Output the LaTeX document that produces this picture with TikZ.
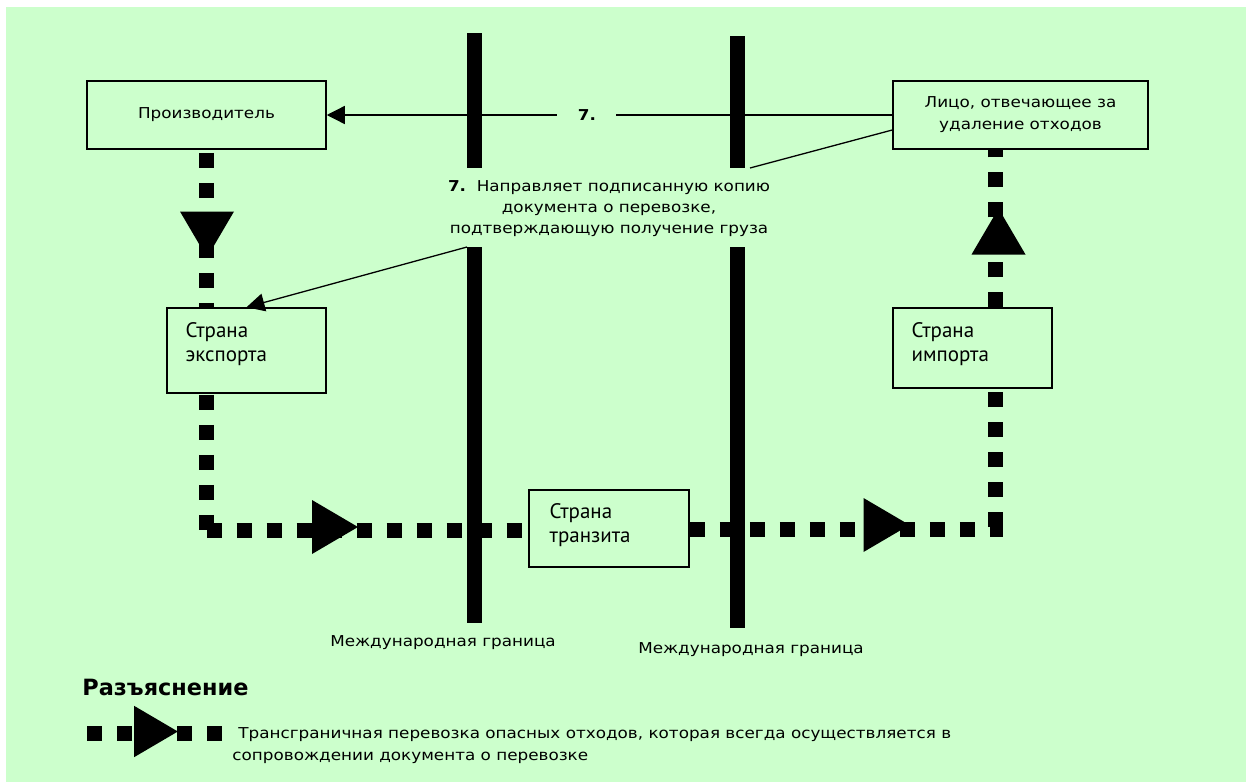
\documentclass[tikz,border=0pt]{standalone}
\usepackage{fontspec}
\setmainfont{DejaVu Sans}[FakeStretch=1.12]
\newfontfamily\boxfont{PT Sans}
\newfontfamily\keyfont{DejaVu Sans}
\usetikzlibrary{arrows.meta,calc}
\definecolor{paper}{HTML}{CCFFCC}

\tikzset{
  box/.style={draw, line width=0.75pt, fill=paper, inner sep=0pt},
  boxtxt/.style={anchor=north west, align=left, inner sep=0pt,
    font=\boxfont\fontsize{10.5}{12}\selectfont},
  lbl/.style={inner sep=0pt, font=\fontsize{7.5}{10.5}\selectfont},
  flow/.style={line width=7.5pt, dash pattern=on 7.5pt off 7.5pt},
  border/.style={line width=7.5pt},
  thin/.style={line width=0.65pt},
  tip/.style={-{Triangle[length=9pt,width=9pt]}},
  flowtip/.pic={\fill (-23,-27) -- (23,0) -- (-23,27) -- cycle;}
}

\begin{document}
\begin{tikzpicture}[x=0.5pt,y=-0.5pt]
\useasboundingbox (0,0) rectangle (1246,782);
\fill[white] (0,0) rectangle (1246,782);
\fill[paper] (6,7) rectangle (1246,782);

% international borders, broken around the note
\draw[border] (474.5,33) -- (474.5,168);
\draw[border] (474.5,247) -- (474.5,623);
\draw[border] (737,36) -- (737,168);
\draw[border] (737,247) -- (737,628);
\node[lbl] (bl1) at (443,643) {Международная граница};
\node[lbl] (bl2) at (751,650) {Международная граница};

% parties
\node[box, minimum width=119.5pt, minimum height=34pt] (prod) at (206.5,115)
  {\fontsize{7.5}{10.5}\selectfont Производитель};
\node[box, minimum width=127.5pt, minimum height=34pt, align=center,
  font=\fontsize{7.5}{11}\selectfont] (disp) at (1020.5,115)
  {Лицо, отвечающее за\\удаление отходов};
\node[box, minimum width=79.5pt, minimum height=42.5pt] (exp) at (246.5,350.5) {};
\node[box, minimum width=80pt, minimum height=38.5pt] (trans) at (609,528.5) {};
\node[box, minimum width=79.5pt, minimum height=40pt] (imp) at (972.5,348) {};
\node[boxtxt] (expT) at ($(exp.north west)+(19,15)$) {Страна\\экспорта};
\node[boxtxt] (transT) at ($(trans.north west)+(21,14)$) {Страна\\транзита};
\node[boxtxt] (impT) at ($(imp.north west)+(19,15)$) {Страна\\импорта};

% movement of the waste
\coordinate (cL) at (206.5,530.5);
\coordinate (cR) at (995.5,529.5);
\draw[flow] ($(prod.south)+(0,3)$) -- (prod.south |- exp.north);
\draw[flow] ($(prod.south |- exp.south)+(0,1)$) -- (cL);
\draw[flow] (cL) -- (trans.west |- cL);
\draw[flow] (trans.east |- cR) -- ($(cR)+(7.5,0)$);
\draw[flow] ($(cR)+(0,-2.5)$) -- (cR |- imp.south);
\draw[flow] (cR |- imp.north) -- (cR |- disp.south);
\pic[rotate=-90] at (207,234.5) {flowtip};
\pic at (335,527) {flowtip};
\pic at (886.5,525) {flowtip};
\pic[rotate=90] at (998.5,231.5) {flowtip};

% step 7: signed copy of the movement document
\node[lbl, align=center] (note) at (609,209)
  {\textbf{7.}\ \ Направляет подписанную копию\\документа о перевозке,\\подтверждающую получение груза};
\coordinate (n1) at (750,168);
\coordinate (n2) at (467,247);
\draw[thin, tip] (disp.west) -- (prod.east)
  node[pos=0.54, fill=paper, minimum width=29.5pt, inner sep=0pt,
       font=\bfseries\fontsize{7.5}{9}\selectfont] (seven) {7.};
\draw[thin] ($(disp.west)+(0,15)$) -- (n1);
\draw[thin, tip] (n2) -- (exp.north);

% key
\node[anchor=base west, inner sep=0pt, font=\keyfont\bfseries\fontsize{11.2}{13}\selectfont]
  (key) at (82,695) {Разъяснение};
\draw[flow] (87,733) -- (223,733);
\pic[scale=0.95] at (156,731.5) {flowtip};
\node[lbl, anchor=north west, align=left, font=\fontsize{7.5}{11}\selectfont] (keyT) at (232,727)
  {\hspace{3pt}Трансграничная перевозка опасных отходов, которая всегда осуществляется в\\сопровождении документа о перевозке};
\end{tikzpicture}
\end{document}
